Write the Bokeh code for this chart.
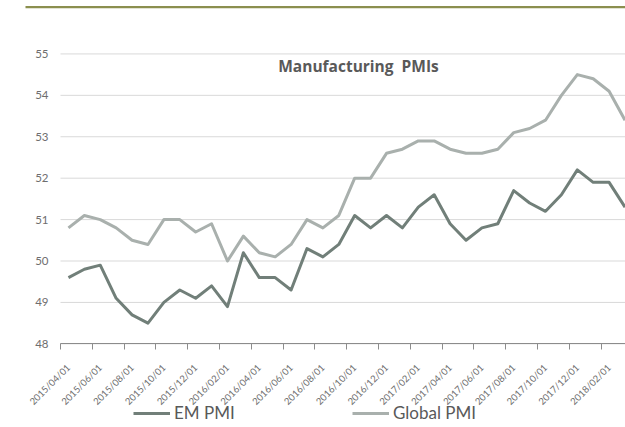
import math
from bokeh.plotting import figure
from bokeh.models import (ColumnDataSource, FixedTicker, Legend, LegendItem,
                          Label, Range1d, BoxAnnotation)
from bokeh.embed import file_html
from bokeh.resources import INLINE

dates = ["2015/04/01", "2015/05/01", "2015/06/01", "2015/07/01", "2015/08/01", "2015/09/01",
         "2015/10/01", "2015/11/01", "2015/12/01", "2016/01/01", "2016/02/01", "2016/03/01",
         "2016/04/01", "2016/05/01", "2016/06/01", "2016/07/01", "2016/08/01", "2016/09/01",
         "2016/10/01", "2016/11/01", "2016/12/01", "2017/01/01", "2017/02/01", "2017/03/01",
         "2017/04/01", "2017/05/01", "2017/06/01", "2017/07/01", "2017/08/01", "2017/09/01",
         "2017/10/01", "2017/11/01", "2017/12/01", "2018/01/01", "2018/02/01", "2018/03/01"]
em_pmi = [49.6, 49.8, 49.9, 49.1, 48.7, 48.5, 49.0, 49.3, 49.1, 49.4, 48.9, 50.2,
          49.6, 49.6, 49.3, 50.3, 50.1, 50.4, 51.1, 50.8, 51.1, 50.8, 51.3, 51.6,
          50.9, 50.5, 50.8, 50.9, 51.7, 51.4, 51.2, 51.6, 52.2, 51.9, 51.9, 51.3]
global_pmi = [50.8, 51.1, 51.0, 50.8, 50.5, 50.4, 51.0, 51.0, 50.7, 50.9, 50.0, 50.6,
              50.2, 50.1, 50.4, 51.0, 50.8, 51.1, 52.0, 52.0, 52.6, 52.7, 52.9, 52.9,
              52.7, 52.6, 52.6, 52.7, 53.1, 53.2, 53.4, 54.0, 54.5, 54.4, 54.1, 53.4]
y_ticks = [48, 49, 50, 51, 52, 53, 54, 55]

idx = list(range(len(dates)))
src = ColumnDataSource(dict(x=idx, em=em_pmi, glob=global_pmi, d=dates))

FONT = "Lato"
GRAY = "#6e6e6e"

# The frame covers the whole canvas; both axes are pinned inside it so the
# rotated labels, the legend and the top rule can sit where the reference has them.
X0, X1 = -4.274, 35.03
Y0, Y1 = 45.98, 56.29
CAT_START = -0.5
p = figure(width=625, height=427, output_backend="svg", toolbar_location=None,
           x_range=Range1d(X0, X1), y_range=Range1d(Y0, Y1),
           min_border_left=0, min_border_right=0, min_border_top=0, min_border_bottom=0)
p.outline_line_color = None
p.background_fill_color = "white"
p.border_fill_color = "white"

# horizontal gridlines, only across the plotting area
p.segment(x0=CAT_START, x1=X1, y0=y_ticks, y1=y_ticks, line_color="#d9d9d9", line_width=1)

r_glob = p.line("x", "glob", source=src, line_color="#a9b0ad", line_width=3, line_join="round")
r_em = p.line("x", "em", source=src, line_color="#717f79", line_width=3, line_join="round")

# x axis
label_pos = idx[::2]
p.xaxis.fixed_location = y_ticks[0]
p.xaxis.bounds = (CAT_START, X1)
p.xaxis.ticker = FixedTicker(ticks=label_pos, minor_ticks=[i - 0.5 for i in label_pos])
p.xaxis.major_label_overrides = {i: dates[i] for i in label_pos}
p.xaxis.major_label_orientation = math.pi / 4
p.xaxis.major_tick_line_color = None
p.xaxis.major_tick_out = 0
p.xaxis.major_tick_in = 0
p.xaxis.minor_tick_line_color = "#8c8c8c"
p.xaxis.minor_tick_out = 6
p.xaxis.minor_tick_in = 0
p.xaxis.axis_line_color = "#8c8c8c"
p.xaxis.axis_line_width = 1
p.xaxis.major_label_standoff = 16
p.xaxis.major_label_text_font = FONT
p.xaxis.major_label_text_font_size = "9.5px"
p.xaxis.major_label_text_color = GRAY

# y axis
p.yaxis.fixed_location = CAT_START
p.yaxis.ticker = FixedTicker(ticks=y_ticks)
p.yaxis.axis_line_color = None
p.yaxis.major_tick_line_color = None
p.yaxis.minor_tick_line_color = None
p.yaxis.major_tick_out = 0
p.yaxis.major_label_standoff = 12
p.yaxis.major_label_text_font = FONT
p.yaxis.major_label_text_font_size = "11.5px"
p.yaxis.major_label_text_color = GRAY

p.xgrid.grid_line_color = None
p.ygrid.grid_line_color = None

# decorative olive rule at top
p.add_layout(BoxAnnotation(left=25, right=625, top=5.5, bottom=7.8,
                           left_units="canvas", right_units="canvas",
                           top_units="canvas", bottom_units="canvas",
                           fill_color="#8b8f4e", fill_alpha=1, line_color=None))

# title inside the plot
title = Label(x=358, y=362, x_units="screen", y_units="screen",
              text="Manufacturing\u00a0 PMIs", text_font="Open Sans", text_font_size="15.5px",
              text_font_style="bold", text_color="#595959",
              text_align="center", text_baseline="middle")
p.add_layout(title)

legend = Legend(items=[LegendItem(label="EM PMI", renderers=[r_em]),
                       LegendItem(label="Global PMI", renderers=[r_glob])],
                location=(133, 4), orientation="horizontal",
                glyph_width=37, glyph_height=20, label_standoff=4, label_width=159,
                label_text_font=FONT, label_text_font_size="17px",
                label_text_color="#595959", padding=0, margin=0, spacing=19,
                border_line_color=None, background_fill_alpha=0)
p.add_layout(legend)

open("out.html", "w").write(file_html(p, INLINE))
